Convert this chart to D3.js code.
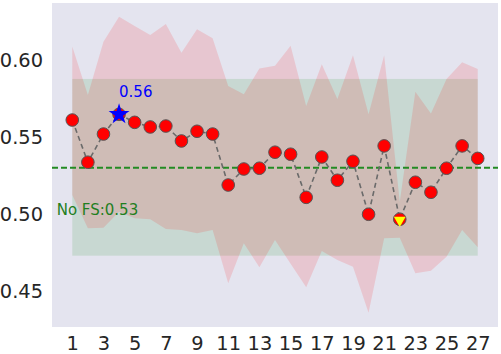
<!DOCTYPE html>
<html>
<head>
<meta charset="utf-8">
<script src="https://cdn.jsdelivr.net/npm/d3@7"></script>
<style>
  body { margin: 0; background: #fff; }
  text { font-family: "DejaVu Sans", sans-serif; }
</style>
</head>
<body>
<div id="chart"></div>
<script>
// number of features kept, 1..27
var steps = d3.range(1, 28);

// mean score for each step
var meanScore = [0.561, 0.5336, 0.5519, 0.5647, 0.5595, 0.5565, 0.5571, 0.5474, 0.5537, 0.5519,
  0.5188, 0.5292, 0.5297, 0.5401, 0.5388, 0.5108, 0.5370, 0.5219, 0.5342, 0.4998,
  0.5442, 0.4966, 0.5206, 0.5141, 0.5297, 0.5442, 0.5361];

// upper / lower edge of the spread band
var upperScore = [0.6087, 0.5773, 0.6119, 0.6281, 0.6221, 0.6162, 0.6234, 0.6047, 0.6199, 0.6141,
  0.5831, 0.5777, 0.5945, 0.5963, 0.6093, 0.5701, 0.5972, 0.5747, 0.6030, 0.5647,
  0.6030, 0.5080, 0.5794, 0.5653, 0.5877, 0.5985, 0.5942];
var lowerScore = [0.5123, 0.4907, 0.4911, 0.5015, 0.4972, 0.4965, 0.4903, 0.4896, 0.4874, 0.4896,
  0.4550, 0.4810, 0.4654, 0.4831, 0.4677, 0.4524, 0.4760, 0.4701, 0.4658, 0.4359,
  0.4842, 0.4846, 0.4615, 0.4632, 0.4723, 0.4896, 0.4784];

// baseline without feature selection
var noFsMean = 0.53;
var noFsBand = [0.4729, 0.5877];

var bestIdx = 3;   // step 4
var worstIdx = 21; // step 22

var xTicks = d3.range(1, 28, 2);
var yTicks = [0.45, 0.50, 0.55, 0.60];

var width = 501, height = 354;
var plot = {left: 52, right: 498, top: 3, bottom: 327};

var svg = d3.select("#chart").append("svg")
  .attr("width", width)
  .attr("height", height);

var x = d3.scaleLinear().domain([-0.3, 28.3]).range([plot.left, plot.right]);
var y = d3.scaleLinear().domain([0.4266, 0.637]).range([plot.bottom, plot.top]);

svg.append("rect")
  .attr("x", plot.left)
  .attr("y", plot.top)
  .attr("width", plot.right - plot.left)
  .attr("height", plot.bottom - plot.top)
  .attr("fill", "#e4e4ef");

// green band (no FS)
svg.append("rect")
  .attr("x", x(1))
  .attr("y", y(noFsBand[1]))
  .attr("width", x(27) - x(1))
  .attr("height", y(noFsBand[0]) - y(noFsBand[1]))
  .attr("fill", "#008000")
  .attr("fill-opacity", 0.12);

// red band
var area = d3.area()
  .x(function(d, i) { return x(steps[i]); })
  .y0(function(d, i) { return y(lowerScore[i]); })
  .y1(function(d, i) { return y(upperScore[i]); });

svg.append("path")
  .datum(meanScore)
  .attr("d", area)
  .attr("fill", "#ff0000")
  .attr("fill-opacity", 0.13);

// no FS line
svg.append("line")
  .attr("x1", plot.left)
  .attr("x2", plot.right)
  .attr("y1", y(noFsMean))
  .attr("y2", y(noFsMean))
  .attr("stroke", "#238b23")
  .attr("stroke-width", 1.8)
  .attr("stroke-dasharray", "6,3");

var line = d3.line()
  .x(function(d, i) { return x(steps[i]); })
  .y(function(d) { return y(d); });

svg.append("path")
  .datum(meanScore)
  .attr("d", line)
  .attr("fill", "none")
  .attr("stroke", "#6a6a6a")
  .attr("stroke-width", 1.6)
  .attr("stroke-dasharray", "5,3.5");

svg.selectAll("circle.pt")
  .data(meanScore)
  .enter().append("circle")
  .attr("class", "pt")
  .attr("cx", function(d, i) { return x(steps[i]); })
  .attr("cy", function(d) { return y(d); })
  .attr("r", 6.3)
  .attr("fill", "#ff0000")
  .attr("stroke", "#555")
  .attr("stroke-width", 1);

// best point
svg.append("path")
  .attr("d", d3.symbol().type(d3.symbolStar).size(135)())
  .attr("transform", "translate(" + x(steps[bestIdx]) + "," + y(meanScore[bestIdx]) + ")")
  .attr("fill", "#0000ff");

svg.append("text")
  .attr("x", x(steps[bestIdx]))
  .attr("y", y(meanScore[bestIdx]) - 17)
  .attr("fill", "#0000ff")
  .style("font-size", "15px")
  .text(d3.format(".2f")(meanScore[bestIdx]));

// worst point
svg.append("path")
  .attr("d", d3.symbol().type(d3.symbolTriangle).size(60)())
  .attr("transform", "translate(" + x(steps[worstIdx]) + "," + (y(meanScore[worstIdx]) + 1) + ") rotate(180)")
  .attr("fill", "#ffff00");

svg.append("text")
  .attr("x", x(0))
  .attr("y", y(0.4994))
  .attr("fill", "#1f7f1f")
  .style("font-size", "15px")
  .text("No FS:" + d3.format(".2f")(noFsMean));

// axes
var xAxis = d3.axisBottom(x).tickValues(xTicks).tickSize(0).tickPadding(9);
var yAxis = d3.axisLeft(y).tickValues(yTicks).tickSize(0).tickPadding(9).tickFormat(d3.format(".2f"));

var gx = svg.append("g")
  .attr("transform", "translate(0," + plot.bottom + ")")
  .call(xAxis);
var gy = svg.append("g")
  .attr("transform", "translate(" + plot.left + ",0)")
  .call(yAxis);

[gx, gy].forEach(function(g) {
  g.select(".domain").remove();
  g.selectAll("text")
    .attr("fill", "#262626")
    .style("font-size", "19.4px")
    .style("font-family", "DejaVu Sans, sans-serif");
});
</script>
</body>
</html>
